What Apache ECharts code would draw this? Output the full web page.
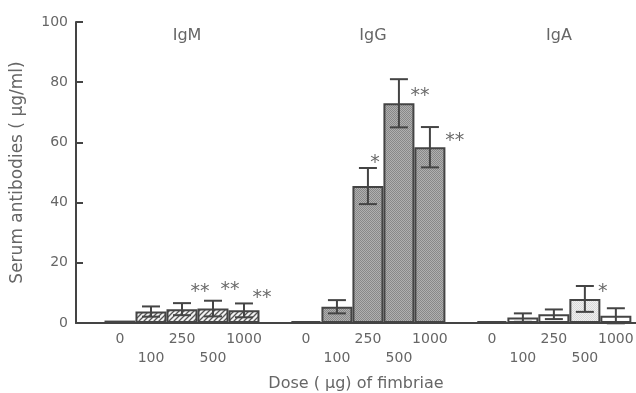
<!DOCTYPE html>
<html>
<head>
<meta charset="utf-8">
<script src="https://cdn.jsdelivr.net/npm/echarts@6/dist/echarts.min.js"></script>
<style>
  html, body { margin: 0; padding: 0; background: #fff; }
  #chart { width: 636px; height: 393px; }
</style>
</head>
<body>
<div id="chart"></div>
<script>
// dose groups, one slot per bar, an empty slot between groups
var doses = ['0', '100', '250', '500', '1000'];
var groups = ['IgM', 'IgG', 'IgA'];
var groupStart = [0, 6, 12];

// serum antibodies (ug/ml), mean and SE per dose
var igmMean = [0.8, 3.8, 4.6, 4.8, 4.2];
var igmErr  = [0, 1.7, 2.0, 2.6, 2.3];
var iggMean = [0.6, 5.4, 45.5, 73.0, 58.4];
var iggErr  = [0, 2.2, 6.0, 8.0, 6.7];
var igaMean = [0.6, 1.8, 2.9, 8.0, 2.4];
var igaErr  = [0, 1.4, 1.6, 4.3, 2.5];

// significance marks: [slot, y, text]
var stars = [
  [2.58, 12.0, '**'], [3.55, 12.6, '**'], [4.58, 10.0, '**'],
  [8.23, 54.8, '*'], [9.68, 77.1, '**'], [10.8, 62.1, '**'],
  [15.58, 12.0, '*'], [16.7, 6.6, '*']
];

var ink = '#444';
var txt = '#666';
var font = 'DejaVu Sans';

// hatch pattern for IgM
function hatch() {
  var c = document.createElement('canvas');
  c.width = 5; c.height = 5;
  var g = c.getContext('2d');
  g.fillStyle = '#f2f2f2';
  g.fillRect(0, 0, 5, 5);
  g.strokeStyle = '#555';
  g.lineWidth = 1.3;
  g.beginPath();
  g.moveTo(-1, 6); g.lineTo(6, -1);
  g.moveTo(-1, 1); g.lineTo(1, -1);
  g.moveTo(4, 6); g.lineTo(6, 4);
  g.stroke();
  return c;
}

function stipple(a, b) {
  var c = document.createElement('canvas');
  c.width = 2; c.height = 2;
  var g = c.getContext('2d');
  g.fillStyle = a; g.fillRect(0, 0, 2, 2);
  g.fillStyle = b; g.fillRect(0, 0, 1, 1); g.fillRect(1, 1, 1, 1);
  return c;
}

var fills = [
  { image: hatch(), repeat: 'repeat' },
  { image: stipple('#b0b0b0', '#888888'), repeat: 'repeat' },
  '#ffffff'
];
var means = [igmMean, iggMean, igaMean];
var errs = [igmErr, iggErr, igaErr];

var barData = [], errData = [], labelSlots = [], labelText = {};
for (var gi = 0; gi < groups.length; gi++) {
  for (var d = 0; d < doses.length; d++) {
    var slot = groupStart[gi] + d;
    var fill = fills[gi];
    if (gi === 2 && d === 3) fill = { image: stipple('#f0f0f0', '#d8d8d8'), repeat: 'repeat' };
    barData.push({ value: [slot, means[gi][d]], itemStyle: { color: fill } });
    if (errs[gi][d] > 0) {
      errData.push([slot, means[gi][d] - errs[gi][d], means[gi][d] + errs[gi][d]]);
    }
    labelSlots.push(slot);
    labelText[slot] = (d % 2 === 1 ? '\n' : '') + doses[d];
  }
}

var chart = echarts.init(document.getElementById('chart'));

var option = {
  animation: false,
  title: groups.map(function (g, i) {
    return {
      text: g,
      left: 120 + 31 * (groupStart[i] + 2),
      top: 23,
      textAlign: 'center',
      textStyle: { fontFamily: font, fontWeight: 'normal', fontSize: 16, color: txt }
    };
  }),
  grid: { left: 76, right: 0, top: 22, bottom: 70, outerBoundsMode: 'none' },
  xAxis: {
    type: 'value',
    min: -1.42,
    max: 16.65,
    name: 'Dose ( \u03bcg) of fimbriae',
    nameLocation: 'middle',
    nameGap: 53,
    nameTextStyle: { fontFamily: font, fontSize: 16, color: txt },
    axisLine: { show: true, onZero: false, lineStyle: { color: ink, width: 2 } },
    axisTick: { show: false },
    splitLine: { show: false },
    axisLabel: {
      customValues: labelSlots,
      formatter: function (v) { return labelText[v] || ''; },
      fontFamily: font, fontSize: 14, color: txt,
      lineHeight: 19, margin: 7
    }
  },
  yAxis: {
    type: 'value',
    min: 0,
    max: 100,
    interval: 20,
    name: 'Serum antibodies ( \u03bcg/ml)',
    nameLocation: 'middle',
    nameGap: 50,
    nameTextStyle: { fontFamily: font, fontSize: 17, color: txt },
    axisLine: { show: true, onZero: false, lineStyle: { color: ink, width: 2 } },
    axisTick: { show: true, inside: true, length: 7, lineStyle: { color: ink, width: 2 } },
    splitLine: { show: false },
    axisLabel: {
      fontFamily: font, fontSize: 14, color: txt, margin: 8
    }
  },
  series: [
    {
      type: 'bar',
      data: barData,
      barWidth: 31,
      itemStyle: { borderColor: ink, borderWidth: 2 },
      z: 2
    },
    {
      type: 'custom',
      data: errData,
      z: 3,
      renderItem: function (params, api) {
        var lo = api.coord([api.value(0), api.value(1)]);
        var hi = api.coord([api.value(0), api.value(2)]);
        var w = 9;
        var st = { stroke: ink, lineWidth: 2 };
        return {
          type: 'group',
          children: [
            { type: 'line', shape: { x1: hi[0], y1: hi[1], x2: lo[0], y2: lo[1] }, style: st },
            { type: 'line', shape: { x1: hi[0] - w, y1: hi[1], x2: hi[0] + w, y2: hi[1] }, style: st },
            { type: 'line', shape: { x1: lo[0] - w, y1: lo[1], x2: lo[0] + w, y2: lo[1] }, style: st }
          ]
        };
      }
    },
    {
      type: 'scatter',
      data: stars,
      symbolSize: 0,
      z: 4,
      label: {
        show: true,
        position: 'inside',
        offset: [0, 5],
        formatter: function (p) { return p.data[2]; },
        fontFamily: 'DejaVu Sans',
        fontSize: 19,
        color: ink
      }
    }
  ]
};

chart.setOption(option);
</script>
</body>
</html>
